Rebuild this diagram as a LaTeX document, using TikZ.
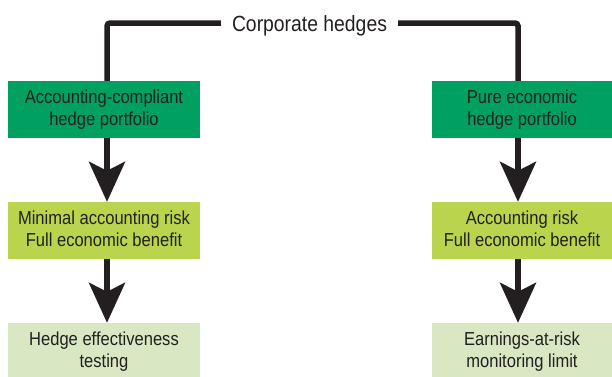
\documentclass[tikz,border=0pt]{standalone}
\usepackage{fontspec}
\setmainfont{Liberation Sans}[FakeStretch=0.88]
\usetikzlibrary{arrows.meta}

\definecolor{hedgegreen}{RGB}{0,160,96}
\definecolor{riskgreen}{RGB}{186,212,78}
\definecolor{limitgreen}{RGB}{217,231,195}
\definecolor{inkblack}{RGB}{35,31,32}

\begin{document}
\begin{tikzpicture}[x=1pt, y=-1pt, node distance=121pt, text=inkblack]

% Define styles
\tikzstyle{block} = [rectangle, minimum height=57pt, inner sep=0pt, align=center,
  text height=36pt, text depth=4pt, font=\fontsize{18.8}{22}\selectfont]
\tikzstyle{line} = [draw=inkblack, line width=5.5pt, rounded corners=3pt]
\tikzstyle{flow} = [draw=inkblack, line width=5.5pt, -{Stealth[length=40pt, width=36pt, inset=9pt]}]

\useasboundingbox (0,0) rectangle (612,376);

% Title
\node[inner xsep=11pt, text height=16pt, text depth=0pt, font=\fontsize{22}{26}\selectfont] (corp) at (309.5,23) {Corporate hedges};
\coordinate (cl) at (107,23);
\coordinate (cr) at (518,23);

% Left column
\node[block, fill=hedgegreen, minimum width=192pt] (compliant) at (104,109.5) {Accounting-compliant\\hedge portfolio};
\node[block, fill=riskgreen, minimum width=192pt, below of=compliant] (minimal) {Minimal accounting risk\\Full economic benefit};
\node[block, fill=limitgreen, minimum width=192pt, below of=minimal] (testing) {Hedge effectiveness\\testing};

% Right column
\node[block, fill=hedgegreen, minimum width=180pt] (pure) at (522,109.5) {Pure economic\\hedge portfolio};
\node[block, fill=riskgreen, minimum width=180pt, below of=pure] (acctrisk) {Accounting risk\\Full economic benefit};
\node[block, fill=limitgreen, minimum width=180pt, below of=acctrisk] (ear) {Earnings-at-risk\\monitoring limit};

% Lines
\draw[line] (corp.west) -- (cl) -- (cl |- compliant.north);
\draw[line] (corp.east) -- (cr) -- (cr |- pure.north);

% Arrows
\draw[flow] (cl |- compliant.south) -- (cl |- minimal.north);
\draw[flow] (cl |- minimal.south) -- (cl |- testing.north);
\draw[flow] (cr |- pure.south) -- (cr |- acctrisk.north);
\draw[flow] (cr |- acctrisk.south) -- (cr |- ear.north);

\end{tikzpicture}
\end{document}
